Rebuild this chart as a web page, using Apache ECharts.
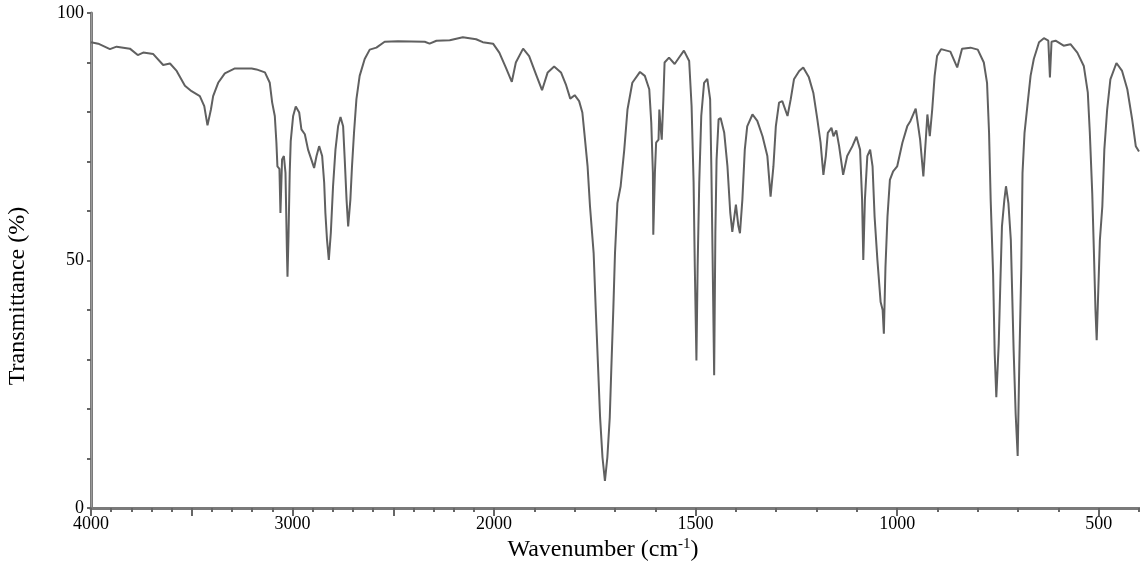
<!DOCTYPE html>
<html><head><meta charset="utf-8">
<script src="https://cdn.jsdelivr.net/npm/echarts@6/dist/echarts.min.js"></script>
<style>html,body{margin:0;padding:0;background:#fff}#c{width:1140px;height:565px}</style>
</head><body><div id="c"></div><script>
// Wavenumber (cm-1) and transmittance (%)
const wavenumbers = [4000,3964,3906,3873,3807,3768,3741,3691,3642,3608,3575,3534,3501,3460,3438,3422,3405,3394,3369,3336,3286,3203,3179,3137,3113,3101,3088,3080,3075,3065,3060,3052,3043,3035,3028,3025,3020,3014,3009,2997,2984,2967,2956,2939,2923,2893,2881,2868,2853,2843,2837,2829,2820,2810,2799,2787,2774,2762,2749,2741,2732,2724,2713,2705,2695,2683,2667,2642,2617,2584,2543,2477,2344,2320,2286,2220,2155,2089,2056,2005,1987,1971,1956,1946,1928,1913,1896,1881,1867,1851,1834,1822,1811,1800,1789,1781,1776,1768,1762,1753,1748,1742,1737,1731,1725,1719,1713,1709,1704,1700,1694,1686,1677,1669,1657,1638,1626,1615,1610,1606,1605,1601,1598,1592,1590,1587,1584,1580,1577,1566,1552,1541,1529,1516,1510,1505,1502,1498,1495,1491,1486,1479,1471,1464,1461,1458,1454,1451,1448,1443,1438,1429,1421,1414,1409,1400,1394,1390,1384,1378,1372,1359,1347,1334,1322,1314,1307,1301,1293,1285,1272,1264,1256,1243,1233,1219,1208,1198,1190,1183,1177,1172,1163,1158,1151,1144,1134,1124,1111,1101,1092,1087,1084,1080,1074,1067,1061,1056,1049,1041,1036,1033,1029,1024,1018,1010,1000,987,975,967,954,943,935,929,925,919,913,907,901,891,868,851,839,818,800,785,777,772,768,762,758,754,748,744,740,734,730,724,718,711,706,701,697,692,689,684,677,669,661,648,636,625,621,617,607,587,570,553,537,527,522,516,512,508,505,501,497,491,486,479,471,456,442,429,417,408,400];
const transmittance = [94.1,93.8,92.7,93.2,92.8,91.5,92.0,91.7,89.5,89.8,88.3,85.3,84.2,83.2,81.2,77.3,80.5,83.2,85.9,87.8,88.8,88.8,88.6,88.0,85.9,81.9,79.2,73.8,69.0,68.5,59.6,70.4,71.1,67.7,52.0,46.7,55.0,67.7,74.1,79.2,81.1,79.9,76.5,75.5,72.4,68.7,71.1,73.1,71.1,65.7,59.6,54.2,50.1,55.6,65.0,72.4,77.1,79.0,77.1,70.4,62.3,56.9,62.3,69.0,75.8,82.6,87.3,90.7,92.6,93.0,94.2,94.3,94.2,93.8,94.4,94.5,95.1,94.7,94.1,93.8,92.0,89.0,86.1,90.0,92.8,91.3,87.6,84.4,88.0,89.2,88.0,85.6,82.7,83.4,82.2,79.9,75.8,69.0,60.9,51.5,40.6,28.5,18.3,10.2,5.5,10.2,18.3,28.5,40.6,51.5,61.6,65.0,72.4,80.5,85.9,88.1,87.3,84.6,77.8,67.7,55.2,67.7,73.8,74.4,80.5,77.0,74.4,82.6,90.0,91.0,89.7,91.0,92.4,90.3,81.2,65.7,48.7,29.8,48.7,65.7,79.2,85.9,86.7,82.6,69.0,51.5,26.8,55.6,70.4,78.5,78.8,75.8,69.0,59.6,55.8,61.3,57.0,55.5,62.3,72.4,77.1,79.5,78.2,75.1,71.1,62.9,69.0,77.1,81.9,82.2,79.2,82.6,86.6,88.3,89.0,87.0,83.9,78.5,73.8,67.3,71.1,75.8,76.8,75.1,76.3,73.1,67.3,71.1,73.1,75.0,72.4,62.3,50.1,62.3,71.1,72.4,69.0,58.9,50.1,41.6,40.0,35.2,48.7,58.9,66.3,68.0,69.0,73.8,77.1,78.2,80.7,74.4,67.0,74.4,79.5,75.1,80.5,87.3,91.3,92.7,92.2,89.0,92.8,93.0,92.6,90.0,85.9,75.8,62.3,47.4,31.2,22.4,33.2,45.4,56.9,62.3,65.0,61.6,54.2,31.8,19.0,10.5,29.1,48.7,67.7,75.8,81.2,87.3,90.7,94.1,94.9,94.4,87.0,94.2,94.4,93.4,93.7,92.0,89.3,83.9,75.8,63.6,52.1,40.0,33.9,44.0,54.2,60.9,72.4,80.5,86.6,89.9,88.3,84.6,78.5,73.1,72.0];
const xTickLabels = [4000,3000,2000,1500,1000,500];
const xMajorTicks = [4000,3500,3000,2500,2000,1500,1000,500];
const yTickLabels = [0,50,100];
const xTitle = 'Wavenumber (cm{sup|-1})';
const yTitle = 'Transmittance (%)';

// Instrument scale: 1000 cm-1 per division above 2000, 500 cm-1 per division below
function toU(w){ return w >= 2000 ? 4000 - w : 2000 + (2000 - w) * 2; }
function fromU(u){ return u <= 2000 ? 4000 - u : 2000 - (u - 2000) / 2; }

const minorTicks = [];
for (let w = 4000; w >= 400; w -= 100) minorTicks.push(toU(w));

const font = 'Liberation Serif';
const axisGrey = '#7a7a7a';
const chart = echarts.init(document.getElementById('c'), null, {renderer:'canvas'});
chart.setOption({
  animation:false,
  backgroundColor:'#fff',
  grid:{left:91,right:1,top:13,bottom:57,containLabel:false,outerBoundsMode:'none'},
  xAxis:[
    {type:'value',min:0,max:toU(400),position:'bottom',
     axisLine:{show:true,onZero:false,lineStyle:{color:axisGrey,width:3}},
     axisTick:{show:true,customValues:minorTicks,length:4,lineStyle:{color:'#666',width:2}},
     axisLabel:{customValues:xTickLabels.map(toU),formatter:v=>String(Math.round(fromU(v))),
       fontFamily:font,fontSize:18,color:'#000',margin:7},
     splitLine:{show:false}},
    {type:'value',min:0,max:toU(400),position:'bottom',
     axisLine:{show:false},
     axisTick:{show:true,customValues:xMajorTicks.map(toU),length:8,lineStyle:{color:'#666',width:2}},
     axisLabel:{show:false},splitLine:{show:false}},
    {type:'value',min:0,max:toU(400),position:'top',
     axisLine:{show:true,lineStyle:{color:axisGrey,width:3}},
     axisTick:{show:false},axisLabel:{show:false},splitLine:{show:false}}
  ],
  yAxis:[
    {type:'value',min:0,max:100,interval:10,position:'left',
     axisLine:{show:true,lineStyle:{color:axisGrey,width:3}},
     axisTick:{show:true,length:4,lineStyle:{color:'#666',width:2}},
     axisLabel:{customValues:yTickLabels,fontFamily:font,fontSize:18,color:'#000',margin:7},
     splitLine:{show:false}},
    {type:'value',min:0,max:100,position:'right',
     axisLine:{show:true,lineStyle:{color:'#9a9a9a',width:1}},
     axisTick:{show:false},axisLabel:{show:false},splitLine:{show:false}}
  ],
  graphic:[
    {type:'text',x:603,y:550,z:10,
     style:{text:xTitle,fontFamily:font,fontSize:24,fill:'#000',align:'center',verticalAlign:'middle',
       rich:{sup:{fontFamily:font,fontSize:15,fill:'#000',verticalAlign:'top',padding:[0,0,12,0]}}}},
    {type:'text',x:18,y:296,rotation:Math.PI/2,z:10,
     style:{text:yTitle,fontFamily:font,fontSize:24,fill:'#000',align:'center',verticalAlign:'middle'}}
  ],
  series:[{
    type:'line',xAxisIndex:0,yAxisIndex:0,showSymbol:false,smooth:false,
    lineStyle:{color:'#606060',width:2},
    data:wavenumbers.map((w,i)=>[toU(w),transmittance[i]])
  }]
});
</script></body></html>
